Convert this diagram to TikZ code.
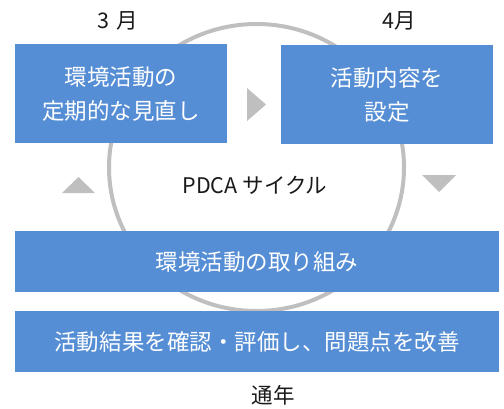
\documentclass[tikz,border=0pt]{standalone}
\usepackage{fontspec}
\setmainfont{Noto Sans CJK JP}
\definecolor{boxblue}{HTML}{558ED5}
\definecolor{cyclegray}{HTML}{BFBFBF}
\definecolor{labeltext}{HTML}{1A1A1A}
\begin{document}
\begin{tikzpicture}[x=1bp,y=-1bp,
  bluebox/.style={fill=boxblue,draw=none,text=white,align=center,font=\fontsize{22.5bp}{34bp}\selectfont},
  lbl/.style={text=labeltext,font=\fontsize{21.5bp}{24bp}\selectfont,inner sep=0pt},
  tri/.style={fill=cyclegray,draw=none}]
\useasboundingbox (0,0) rectangle (504,408);
% cycle ellipse
\draw[cyclegray,line width=4bp] (256.5,167.5) ellipse [x radius=147.5, y radius=143.5];
% boxes
\fill[boxblue] (15,44) rectangle (227,143);
\node[bluebox] (plan) at (121,94.5) {環境活動の\\定期的な見直し};
\fill[boxblue] (281,45) rectangle (493,144);
\node[bluebox] (set) at (387,94.5) {活動内容を\\設定};
\fill[boxblue] (15,231) rectangle (499,292);
\node[bluebox] (do) at (257,261.5) {環境活動の取り組み};
\fill[boxblue] (15,311) rectangle (499,372);
\node[bluebox] (check) at (257,341.5) {活動結果を確認・評価し、問題点を改善};
% triangles
\fill[cyclegray] (247,88) -- (247,121) -- (266,104.5) -- cycle;
\fill[cyclegray] (62,193) -- (95,193) -- (78.5,177) -- cycle;
\fill[cyclegray] (422,175) -- (456,175) -- (439,192) -- cycle;
% labels
\node[lbl] (m3) at (118,21) {3\hspace{0.35em}月};
\node[lbl] (m4) at (399,21) {4月};
\node[lbl] (pdca) at (255,185) {PDCA サイクル};
\node[lbl] (year) at (273,395) {通年};
\end{tikzpicture}
\end{document}
